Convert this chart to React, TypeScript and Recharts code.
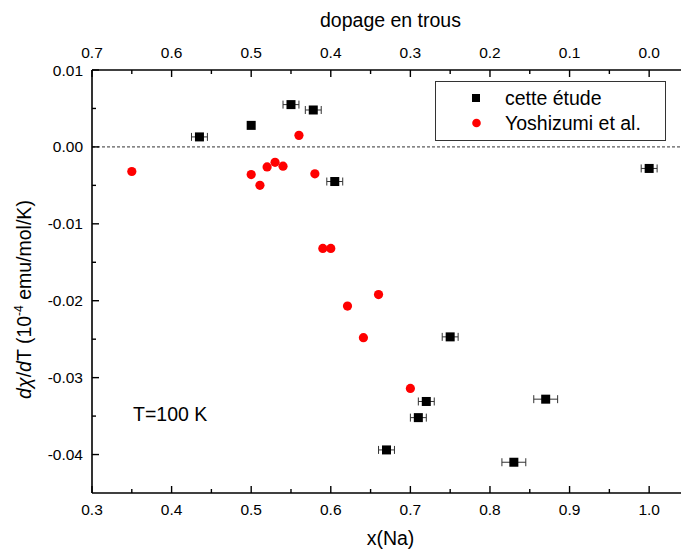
import React from 'react';
import {
  ScatterChart,
  Scatter,
  XAxis,
  YAxis,
  ErrorBar,
  ReferenceLine,
  Legend,
  Label,
  Customized,
} from 'recharts';

const FONT = '"Liberation Sans", Arial, Helvetica, sans-serif';

// cette étude (with x error bars)
const xCette = [0.435, 0.55, 0.578, 0.605, 0.67, 0.71, 0.72, 0.75, 0.83, 0.87, 1.0];
const yCette = [0.0013, 0.0055, 0.0048, -0.0045, -0.0394, -0.0352, -0.0331, -0.0247, -0.041, -0.0328, -0.0028];
const errCette = [0.01, 0.01, 0.01, 0.01, 0.01, 0.01, 0.01, 0.01, 0.015, 0.015, 0.01];
// cette étude (no error bar)
const xCetteNoErr = [0.5];
const yCetteNoErr = [0.0028];
// Yoshizumi et al.
const xYoshi = [0.35, 0.5, 0.511, 0.52, 0.53, 0.54, 0.56, 0.58, 0.59, 0.6, 0.621, 0.641, 0.66, 0.7];
const yYoshi = [-0.0032, -0.0036, -0.005, -0.0026, -0.002, -0.0025, 0.0015, -0.0035, -0.0132, -0.0132, -0.0207, -0.0248, -0.0192, -0.0314];

const xTicks = [0.3, 0.35, 0.4, 0.45, 0.5, 0.55, 0.6, 0.65, 0.7, 0.75, 0.8, 0.85, 0.9, 0.95, 1.0];
const yTicks = [0.01, 0.005, 0, -0.005, -0.01, -0.015, -0.02, -0.025, -0.03, -0.035, -0.04];
const xDomain = [0.3, 1.04];
const yDomain = [-0.045, 0.01];

const cetteData = xCette.map((x, i) => ({ x, y: yCette[i], e: errCette[i] }));
const cetteNoErrData = xCetteNoErr.map((x, i) => ({ x, y: yCetteNoErr[i] }));
const yoshiData = xYoshi.map((x, i) => ({ x, y: yYoshi[i] }));

const MAJOR = 7;
const MINOR = 4;
const TICK_FS = 15.5;
const TITLE_FS = 19.5;

const Square = (props: any) => {
  const { cx, cy } = props;
  if (cx == null || cy == null) return null;
  return <rect x={cx - 4.5} y={cy - 4.5} width={9} height={9} fill="#000" />;
};

const Dot = (props: any) => {
  const { cx, cy } = props;
  if (cx == null || cy == null) return null;
  return <circle cx={cx} cy={cy} r={4.6} fill="#ff0000" />;
};

const BottomTick = (props: any) => {
  const { x, y, payload, index } = props;
  const major = index % 2 === 0;
  return (
    <g>
      <line x1={x} y1={y} x2={x} y2={y - (major ? MAJOR : MINOR)} stroke="#000" strokeWidth={1.4} />
      {major && (
        <text x={x} y={y + 22} textAnchor="middle" fontSize={TICK_FS} fontFamily={FONT} fill="#000">
          {payload.value.toFixed(1)}
        </text>
      )}
    </g>
  );
};

const TopTick = (props: any) => {
  const { x, y, payload, index } = props;
  const major = index % 2 === 0;
  return (
    <g>
      <line x1={x} y1={y} x2={x} y2={y + (major ? MAJOR : MINOR)} stroke="#000" strokeWidth={1.4} />
      {major && (
        <text x={x} y={y - 12} textAnchor="middle" fontSize={TICK_FS} fontFamily={FONT} fill="#000">
          {Math.abs(1 - payload.value).toFixed(1)}
        </text>
      )}
    </g>
  );
};

const LeftTick = (props: any) => {
  const { x, y, payload, index } = props;
  const major = index % 2 === 0;
  return (
    <g>
      <line x1={x} y1={y} x2={x + (major ? MAJOR : MINOR)} y2={y} stroke="#000" strokeWidth={1.4} />
      {major && (
        <text x={x - 9} y={y} dy="0.36em" textAnchor="end" fontSize={TICK_FS} fontFamily={FONT} fill="#000">
          {payload.value.toFixed(2)}
        </text>
      )}
    </g>
  );
};

const YTitle = (props: any) => {
  const vb = props.viewBox || { x: 0, y: 70, width: 92, height: 423 };
  const cx = vb.x + 31;
  const cy = vb.y + vb.height / 2 + 18;
  return (
    <text
      x={cx}
      y={cy}
      transform={`rotate(-90 ${cx} ${cy})`}
      textAnchor="middle"
      fontSize={TITLE_FS}
      fontFamily={FONT}
      fill="#000"
    >
      <tspan fontStyle="italic">d</tspan>
      <tspan fontStyle="italic">χ</tspan>
      <tspan>/</tspan>
      <tspan fontStyle="italic">d</tspan>
      <tspan>T (10</tspan>
      <tspan fontSize={12} dy={-8}>-4</tspan>
      <tspan dy={8}> emu/mol/K)</tspan>
    </text>
  );
};

const XTitle = (props: any) => {
  const vb = props.viewBox || { x: 92, y: 493, width: 589, height: 57 };
  return (
    <text x={vb.x + vb.width / 2 + 4} y={vb.y + 52} textAnchor="middle" fontSize={TITLE_FS} fontFamily={FONT} fill="#000">
      x(Na)
    </text>
  );
};

const TopTitle = (props: any) => {
  const vb = props.viewBox || { x: 92, y: 0, width: 589, height: 70 };
  return (
    <text x={vb.x + vb.width / 2 + 4} y={vb.y + 27} textAnchor="middle" fontSize={TITLE_FS} fontFamily={FONT} fill="#000">
      dopage en trous
    </text>
  );
};

const renderLegend = () => (
  <svg width={231} height={60} style={{ display: 'block' }}>
    <rect x={0.5} y={0.5} width={230} height={59} fill="#fff" stroke="#333" strokeWidth={1} />
    <rect x={37} y={13} width={8} height={8} fill="#000" />
    <text x={70} y={24} fontSize={TITLE_FS} fontFamily={FONT} fill="#000">cette étude</text>
    <circle cx={41.5} cy={42} r={4.3} fill="#ff0000" />
    <text x={70} y={49} fontSize={TITLE_FS} fontFamily={FONT} fill="#000">Yoshizumi et al.</text>
  </svg>
);

const TempNote = () => (
  <text x={133} y={421} fontSize={TITLE_FS} fontFamily={FONT} fill="#000">
    T=100 K
  </text>
);

export default function App() {
  return (
    <div style={{ position: 'absolute', left: 0, top: 0, width: 681, height: 550, background: '#fff' }}>
      <ScatterChart width={681} height={550} margin={{ top: 0, right: 0, bottom: 0, left: 0 }} style={{ fontFamily: FONT }}>
        <XAxis
          xAxisId="bottom"
          type="number"
          dataKey="x"
          orientation="bottom"
          domain={xDomain}
          ticks={xTicks}
          interval={0}
          height={57}
          allowDataOverflow
          tickSize={0}
          tickMargin={0}
          tickLine={false}
          axisLine={{ stroke: '#000', strokeWidth: 1.6 }}
          tick={<BottomTick />}
        >
          <Label content={<XTitle />} />
        </XAxis>
        <XAxis
          xAxisId="top"
          type="number"
          dataKey="x"
          orientation="top"
          domain={xDomain}
          ticks={xTicks}
          interval={0}
          height={70}
          allowDataOverflow
          tickSize={0}
          tickMargin={0}
          tickLine={false}
          axisLine={{ stroke: '#000', strokeWidth: 1.6 }}
          tick={<TopTick />}
        >
          <Label content={<TopTitle />} />
        </XAxis>
        <YAxis
          yAxisId="left"
          type="number"
          dataKey="y"
          domain={yDomain}
          ticks={yTicks}
          interval={0}
          width={92}
          allowDataOverflow
          tickSize={0}
          tickMargin={0}
          tickLine={false}
          axisLine={{ stroke: '#000', strokeWidth: 1.6 }}
          tick={<LeftTick />}
        >
          <Label content={<YTitle />} />
        </YAxis>
        <ReferenceLine xAxisId="bottom" yAxisId="left" y={0} stroke="#333" strokeWidth={1} strokeDasharray="3 2" />
        <Scatter
          name="cette étude"
          xAxisId="bottom"
          yAxisId="left"
          data={cetteData}
          shape={<Square />}
          isAnimationActive={false}
        >
          <ErrorBar dataKey="e" direction="x" width={4} stroke="#333" strokeWidth={1} isAnimationActive={false} />
        </Scatter>
        <Scatter
          name="cette étude (sans barre)"
          xAxisId="bottom"
          yAxisId="left"
          data={cetteNoErrData}
          shape={<Square />}
          isAnimationActive={false}
          legendType="none"
        />
        <Scatter
          name="Yoshizumi et al."
          xAxisId="bottom"
          yAxisId="left"
          data={yoshiData}
          shape={<Dot />}
          isAnimationActive={false}
        />
        <Scatter xAxisId="top" yAxisId="left" data={[]} isAnimationActive={false} legendType="none" />
        <Legend
          layout="horizontal"
          verticalAlign="middle"
          align="center"
          content={renderLegend}
          wrapperStyle={{ position: 'absolute', left: 435, top: 81, width: 231, height: 60 }}
        />
        <Customized component={TempNote} />
      </ScatterChart>
    </div>
  );
}
